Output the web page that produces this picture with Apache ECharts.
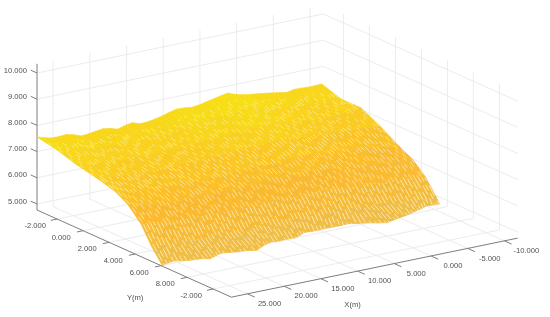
<!DOCTYPE html>
<html><head><meta charset="utf-8">
<style>html,body{margin:0;padding:0;background:#fff}#c{width:550px;height:317px;filter:blur(0.35px)}</style>
<script src="https://cdn.jsdelivr.net/npm/echarts@6/dist/echarts.min.js"></script>
</head><body><div id="c"></div>
<script>
// ---- axis ticks ----
const xTicks = [25,20,15,10,5,0,-5,-10];
const xTickLabels = ['25.000','20.000','15.000','10.000','5.000','0.000','-5.000','-10.000'];
const yTicks = [-2,0,2,4,6,8,10];
const yTickLabels = ['-2.000','0.000','2.000','4.000','6.000','8.000','-2.000'];
const zTicks = [5,6,7,8,9,10];
const zTickLabels = ['5.000','6.000','7.000','8.000','9.000','10.000'];
// ---- surface samples ----
const xs = [27.2,26.2,25.2,24.2,23.2,22.2,21.2,20.2,19.2,18.2,17.2,16.2,15.2,14.2,13.2,12.2,11.2,10.2,9.2,8.2,7.2,6.2,5.2,4.2,3.2,2.2,1.2,0.2,-0.8,-1.8,-2.8,-3.8,-4.8,-5.8,-6.8,-7.8,-8.8,-9.8,-10.8,-11.6];
const ys = [-3.55,-2.05,-0.55,0.95,2.45,3.45,4.45,5.25];
const yEnd = [6.08,5.95,5.9,6.05,6.15,6.25,6.4,6.25,6.1,6.2,6.3,6.4,6.55,6.35,6.15,6.02,6.05,6.05,6.05,5.95,5.71,5.72,5.73,5.73,5.73,5.72,5.72,5.9,6.05,6.3,6.45,6.35,6.25,6.14,6.0,5.85,5.7,5.5,5.5,5.5];
const z0 = [7.56,7.47,7.40,7.40,7.42,7.35,7.25,7.27,7.31,7.35,7.30,7.22,7.30,7.35,7.25,7.26,7.31,7.37,7.45,7.52,7.51,7.47,7.50,7.56,7.62,7.68,7.73,7.62,7.55,7.50,7.47,7.43,7.39,7.34,7.29,7.35,7.34,7.32,7.33,7.34];
const z1 = [7.41,7.33,7.27,7.25,7.26,7.21,7.12,7.13,7.16,7.20,7.16,7.09,7.16,7.21,7.13,7.14,7.18,7.23,7.29,7.34,7.35,7.32,7.34,7.38,7.42,7.47,7.50,7.43,7.36,7.31,7.28,7.24,7.20,7.16,7.11,7.14,7.14,7.12,7.11,7.09];
const z2 = [7.18,7.13,7.07,7.04,7.05,7.01,6.95,6.96,6.98,7.01,6.98,6.93,6.98,7.02,6.96,6.96,6.99,7.03,7.08,7.12,7.13,7.11,7.12,7.15,7.18,7.22,7.24,7.19,7.13,7.09,7.07,7.05,7.02,6.99,6.95,6.97,7.02,7.06,7.09,7.10];
const z3 = [7.02,6.96,6.91,6.88,6.89,6.85,6.79,6.80,6.82,6.85,6.83,6.78,6.82,6.86,6.81,6.81,6.84,6.87,6.91,6.94,6.95,6.93,6.94,6.96,6.99,7.02,7.03,6.98,6.93,6.90,6.88,6.86,6.84,6.82,6.79,6.79,6.78,6.76,6.74,6.72];
const z4 = [6.82,6.75,6.69,6.66,6.65,6.62,6.56,6.57,6.59,6.60,6.58,6.54,6.57,6.60,6.56,6.55,6.57,6.60,6.63,6.66,6.66,6.64,6.65,6.66,6.68,6.70,6.71,6.66,6.61,6.58,6.56,6.54,6.51,6.49,6.46,6.44,6.40,6.36,6.30,6.27];
const z5 = [6.53,6.45,6.39,6.36,6.35,6.33,6.28,6.28,6.30,6.31,6.29,6.26,6.28,6.30,6.27,6.26,6.27,6.30,6.33,6.35,6.35,6.33,6.34,6.34,6.36,6.37,6.37,6.33,6.28,6.25,6.24,6.22,6.20,6.18,6.16,6.14,6.11,6.08,6.03,6.01];
const z6 = [6.02,5.97,5.92,5.89,5.88,5.86,5.82,5.82,5.83,5.84,5.83,5.80,5.81,5.82,5.80,5.79,5.80,5.82,5.84,5.86,5.86,5.84,5.85,5.85,5.86,5.87,5.86,5.83,5.79,5.76,5.75,5.74,5.72,5.70,5.68,5.67,5.65,5.62,5.58,5.55];
const z7 = [5.35,5.33,5.30,5.29,5.28,5.27,5.25,5.24,5.25,5.25,5.24,5.23,5.23,5.24,5.22,5.22,5.22,5.24,5.25,5.26,5.26,5.25,5.25,5.26,5.26,5.27,5.26,5.24,5.22,5.20,5.19,5.18,5.17,5.15,5.14,5.13,5.11,5.08,5.03,4.98];
const z8 = [4.80,4.80,4.82,4.80,4.79,4.80,4.78,4.80,4.81,4.80,4.79,4.80,4.78,4.80,4.81,4.82,4.80,4.81,4.80,4.81,4.82,4.80,4.80,4.81,4.80,4.80,4.81,4.80,4.80,4.79,4.78,4.79,4.80,4.80,4.80,4.81,4.80,4.80,4.78,4.77];
// ---- view box and styling ----
const box = {xMax:27.2, xMin:-11.8, yMin:-3.55, yMax:11.4, zMin:4.77, zMax:10.35};
const view = {ox:37, oy:210, xdx:-7.34, xdy:1.514, ydx:13, ydy:5.83, zdy:-26.2};
const zStops = [4.8,5.5,6.2,6.7,7.1,7.5];
const zColors = ['#EDBE4C','#F6BC38','#FBBA2E','#FAC526','#F9D31E','#F7DE16'];
const dashOffsets = [0,5,9,3,11,7,2,13,6,10,1,8,4,12];
const streakZones = [
  {from:0.45,to:3,dashes:[[4,9],[6,7],[3,11],[5,8],[7,10]],opacity:0.55},
  {from:3,to:6,dashes:[[6,6],[4,7],[8,5],[5,9],[7,4]],opacity:0.65},
  {from:6,to:8,dashes:[[10,4],[7,3],[12,5],[9,2],[6,4]],opacity:0.75}
];
const FONT = '7.6px "Liberation Sans"';
const TEXT = '#505050';

const zRows = [z0,z1,z2,z3,z4,z5,z6,z7,z8];
function proj(x,y,z){
  return [view.ox+(x-box.xMax)*view.xdx+(y-box.yMin)*view.ydx,
          view.oy+(x-box.xMax)*view.xdy+(y-box.yMin)*view.ydy+(z-box.zMin)*view.zdy];
}
function yAt(c,r){return r<ys.length?ys[r]:yEnd[c];}
function cellPt(c,r){return proj(xs[c],yAt(c,r),zRows[r][c]);}
function colorFor(z){
  if(z<=zStops[0])return zColors[0];
  for(let i=1;i<zStops.length;i++){
    if(z<=zStops[i])return echarts.color.lerp((z-zStops[i-1])/(zStops[i]-zStops[i-1]),[zColors[i-1],zColors[i]]);
  }
  return zColors[zColors.length-1];
}
// wall and floor grid segments
const gridSegs=[];
const xT=xTicks, yT=yTicks, zT=zTicks;
xT.forEach(x=>{gridSegs.push([x,box.yMin,box.zMin,x,box.yMin,box.zMax]);gridSegs.push([x,box.yMin,box.zMin,x,box.yMax,box.zMin]);});
yT.forEach(y=>{gridSegs.push([box.xMin,y,box.zMin,box.xMin,y,box.zMax]);gridSegs.push([box.xMin,y,box.zMin,box.xMax,y,box.zMin]);});
zT.forEach(z=>{gridSegs.push([box.xMax,box.yMin,z,box.xMin,box.yMin,z]);gridSegs.push([box.xMin,box.yMin,z,box.xMin,box.yMax,z]);});
// axis lines and ticks
const axisSegs=[
 [box.xMax,box.yMin,box.zMin,box.xMax,box.yMin,box.zMax],
 [box.xMax,box.yMin,box.zMin,box.xMax,box.yMax,box.zMin],
 [box.xMax,box.yMax,box.zMin,box.xMin,box.yMax,box.zMin]
];
xT.forEach(x=>axisSegs.push([x,box.yMax,box.zMin,x,box.yMax+0.55,box.zMin]));
yT.forEach(y=>axisSegs.push([box.xMax,y,box.zMin,box.xMax+0.85,y,box.zMin]));
zT.forEach(z=>axisSegs.push([box.xMax,box.yMin,z,box.xMax,box.yMin-0.48,z]));
// text items: [x,y,z,dx,dy,text,align]
const texts=[];
xT.forEach((x,i)=>texts.push([x,box.yMax,box.zMin,22,10,xTickLabels[i],'center']));
yT.forEach((y,i)=>texts.push([box.xMax,y,box.zMin,-22,7,yTickLabels[i],'center']));
zT.forEach((z,i)=>texts.push([box.xMax,box.yMin,z,-10,-2.5,zTickLabels[i],'right']));
texts.push([box.xMax,4,box.zMin,0,44,'Y(m)','center'],[10,box.yMax,box.zMin,-5,34,'X(m)','center']);
// cells, back to front
const cells=[];
for(let c=xs.length-2;c>=0;c--)for(let r=0;r<zRows.length-1;r++)cells.push([c,r]);
// streak lines: running along Y inside each cell
const streaks=[];
for(let c=0;c<xs.length-1;c++)[1/3,5/6].forEach((f,k)=>{
  streakZones.forEach((s,zi)=>streaks.push([c,f,zi,k]));
});

function segItem(color,width){
  return (p,api)=>{
    const d=gridOrAxis[color][p.dataIndex];
    const a=api.coord(proj(d[0],d[1],d[2])),b=api.coord(proj(d[3],d[4],d[5]));
    return {type:'line',shape:{x1:a[0],y1:a[1],x2:b[0],y2:b[1]},style:{stroke:color,lineWidth:width},silent:true};
  };
}
const GRID='#ECECEF', AXIS='#7E7E7E';
const gridOrAxis={[GRID]:gridSegs,[AXIS]:axisSegs};

const option={
  animation:false,
  backgroundColor:'#fff',
  grid:{left:0,right:0,top:0,bottom:0},
  xAxis:{type:'value',min:0,max:550,show:false},
  yAxis:{type:'value',min:0,max:317,inverse:true,show:false},
  series:[
    {type:'custom',clip:false,silent:true,z:1,data:gridSegs.map((s,i)=>[i]),renderItem:segItem(GRID,1)},
    {type:'custom',clip:false,silent:true,z:3,data:cells,renderItem:(p,api)=>{
      const c=cells[p.dataIndex][0],r=cells[p.dataIndex][1];
      const pts=[cellPt(c,r),cellPt(c+1,r),cellPt(c+1,r+1),cellPt(c,r+1)].map(q=>api.coord(q));
      const m=(zRows[r][c]+zRows[r][c+1]+zRows[r+1][c]+zRows[r+1][c+1])/4;
      const col=colorFor(m);
      return {type:'polygon',shape:{points:pts},style:{fill:col,stroke:col,lineWidth:0.7},silent:true};
    }},
    {type:'custom',clip:false,silent:true,z:4,data:streaks,renderItem:(p,api)=>{
      const [c,f,zi,k]=streaks[p.dataIndex];
      const zone=streakZones[zi];
      const pts=[];
      const at=(r)=>{const a=cellPt(c,r),b=cellPt(c+1,r);return [a[0]+(b[0]-a[0])*f,a[1]+(b[1]-a[1])*f];};
      const lo=Math.floor(zone.from);
      if(zone.from>lo){
        const a=at(lo),b=at(lo+1),t=zone.from-lo;
        pts.push(api.coord([a[0]+(b[0]-a[0])*t,a[1]+(b[1]-a[1])*t]));
      }
      for(let r=Math.ceil(zone.from);r<=zone.to;r++)pts.push(api.coord(at(r)));
      const n=c*2+k+zi*3;
      return {type:'polyline',shape:{points:pts},style:{
        fill:null,stroke:'#FFF6CC',opacity:zone.opacity,lineWidth:1,
        lineDash:zone.dashes[(n*3+c)%zone.dashes.length],lineDashOffset:dashOffsets[(n*5+zi)%dashOffsets.length]},silent:true};
    }},
    {type:'custom',clip:false,silent:true,z:2,data:axisSegs.map((s,i)=>[i]),renderItem:segItem(AXIS,1)},
    {type:'custom',clip:false,silent:true,z:5,data:texts.map((s,i)=>[i]),renderItem:(p,api)=>{
      const t=texts[p.dataIndex];
      const q=api.coord(proj(t[0],t[1],t[2]));
      return {type:'text',style:{text:t[5],x:q[0]+t[3],y:q[1]+t[4],fill:TEXT,font:FONT,align:t[6],verticalAlign:'middle'},silent:true};
    }}
  ]
};
echarts.init(document.getElementById('c')).setOption(option);
</script></body></html>
